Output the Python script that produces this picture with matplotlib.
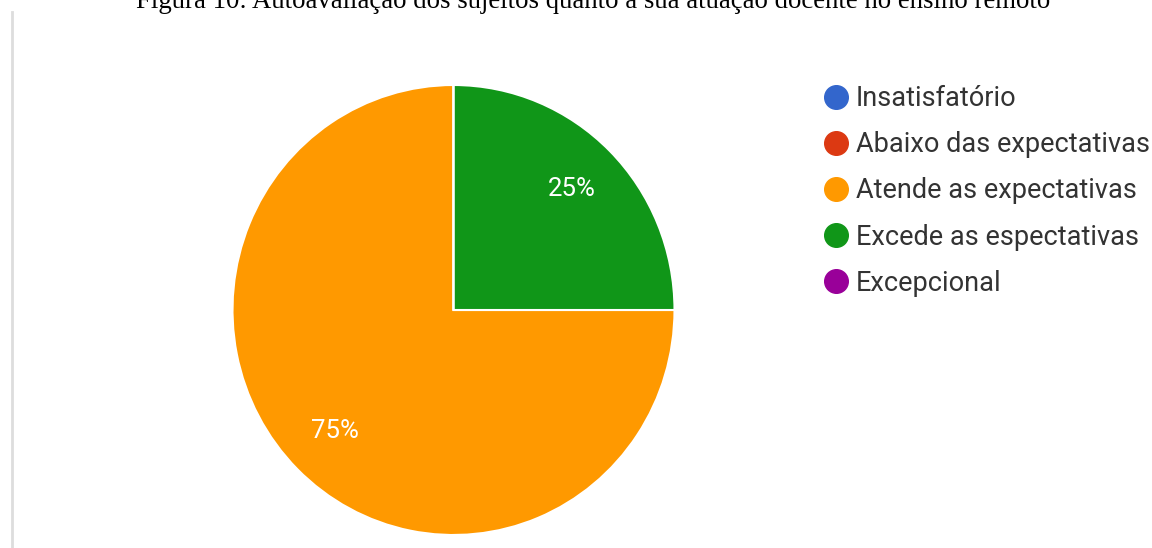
import matplotlib
matplotlib.use("Agg")
import matplotlib.pyplot as plt
from matplotlib.lines import Line2D

W, H, DPI = 1152, 548, 100

title = "Figura 10: Autoavaliação dos sujeitos quanto à sua atuação docente no ensino remoto"
categories = ["Insatisfatório", "Abaixo das expectativas", "Atende as expectativas",
              "Excede as espectativas", "Excepcional"]
percentages = [0, 0, 75, 25, 0]
colors = ["#3366cc", "#dc3912", "#ff9900", "#109618", "#990099"]

fig = plt.figure(figsize=(W / DPI, H / DPI), dpi=DPI)
fig.patch.set_facecolor("white")

# title (partly clipped at the top edge)
fig.text(593 / W, 1 - 8 / H, title, ha="center", va="baseline",
         fontfamily="Liberation Serif", fontsize=19.3, color="#000000")

# thin grey frame line on the left
fig.add_artist(Line2D([12 / W, 12 / W], [0, 1 - 12 / H], transform=fig.transFigure,
                      color="#dddddd", lw=2))

# pie axes (slightly wider than tall, like the source figure)
cx, cy, rx, ry = 453.5, 310, 221, 225
ax = fig.add_axes([(cx - rx) / W, (H - cy - ry) / H, 2 * rx / W, 2 * ry / H])


def pct_label(p):
    return f"{p:.0f}%" if p > 0.5 else ""


wedges, texts, autotexts = ax.pie(
    percentages, colors=colors, startangle=90, counterclock=True,
    autopct=pct_label, pctdistance=0.76, radius=1.0,
    wedgeprops=dict(edgecolor="white", linewidth=1.5),
    textprops=dict(color="white", fontsize=18.5, fontfamily="Roboto"))
ax.set_aspect("auto")
ax.set_xlim(-1, 1)
ax.set_ylim(-1, 1)
ax.axis("off")

# legend
handles = [Line2D([0], [0], marker="o", linestyle="", markersize=17,
                  markerfacecolor=c, markeredgecolor=c) for c in colors]
leg = fig.legend(handles, categories, loc="upper left",
                 bbox_to_anchor=(827 / W, 1 - 85 / H), frameon=False,
                 prop=dict(family="Roboto", size=19.5), labelcolor="#333333",
                 handlelength=0.65, handletextpad=0.42, labelspacing=0.71,
                 borderaxespad=0, borderpad=0)

fig.savefig("out.png", dpi=DPI)
